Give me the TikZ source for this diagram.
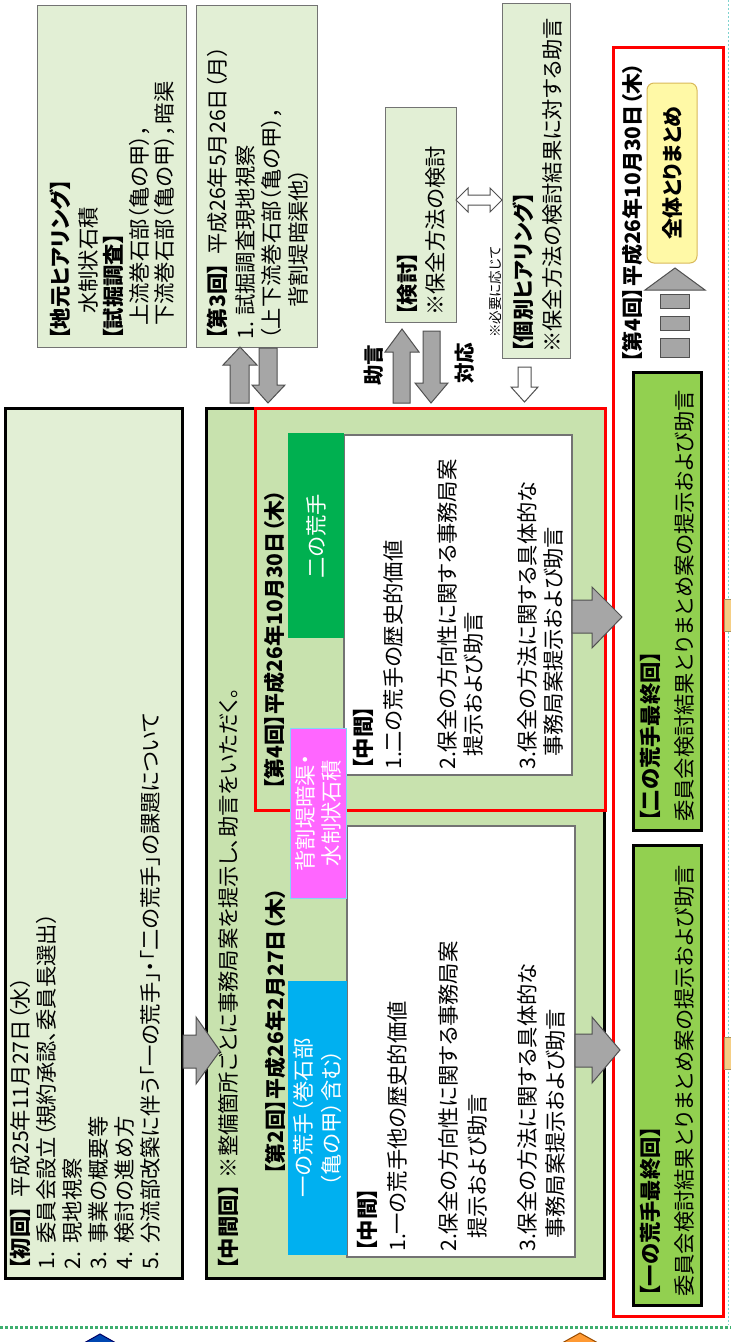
\documentclass[tikz,border=0pt]{standalone}
\usepackage{fontspec}
\setmainfont{Noto Sans CJK JP}[RawFeature={+palt}]
\definecolor{lg}{HTML}{E2EFD5}
\definecolor{mg}{HTML}{C8E2AE}
\definecolor{dkgreen}{HTML}{00B050}
\definecolor{cyanb}{HTML}{00B0F0}
\definecolor{magb}{HTML}{FF66FF}
\definecolor{fg}{HTML}{92D050}
\definecolor{yel}{HTML}{FFF9A6}
\definecolor{yelb}{HTML}{D9B95A}
\definecolor{arrgray}{HTML}{A6A6A6}
\definecolor{arrdark}{HTML}{505050}
\definecolor{dotg}{HTML}{3DAE6E}
\definecolor{dotc}{HTML}{7FD3CF}
\definecolor{orb}{HTML}{F5CF85}
\begin{document}
\begin{tikzpicture}[x=1pt,y=-1pt,
  t/.style={rotate=90,anchor=west,inner sep=0pt,font=\fontsize{21.3}{24}\selectfont},
  tc/.style={rotate=90,anchor=center,inner sep=0pt,font=\fontsize{21.3}{24}\selectfont},
  small/.style={rotate=90,anchor=west,inner sep=0pt,font=\fontsize{13.5}{15}\selectfont},
  lbox/.style={fill=lg,draw=black!55,line width=0.9pt},
  wbox/.style={fill=white,draw=black!55,line width=1.2pt},
  arr/.style={fill=arrgray,draw=arrdark,line width=1pt,line join=miter},
  harr/.style={fill=white,draw=arrdark,line width=1pt,line join=miter},
]
\useasboundingbox (0,0) rectangle (731,1342);
\fill[white] (0,0) rectangle (731,1342);

% ---------- top boxes ----------
\draw[lbox] (37,5) rectangle (186,347);
\node[t] (jm1) at (60,340) {\textbf{【地元ヒアリング】}};
\node[t] (jm2) at (88,314) {水制状石積};
\node[t] (jm3) at (113,340) {\textbf{【試掘調査】}};
\node[t] (jm4) at (140,326) {上流巻石部（亀の甲），};
\node[t] (jm5) at (165,326) {下流巻石部（亀の甲），暗渠};

\draw[lbox] (196,5) rectangle (317,347);
\node[t] (d3a) at (217,340) {\textbf{【第3回】}\hspace{0.4em}平成26年5月26日（月）};
\node[t] (d3b) at (245,340) {1.\hspace{0.3em}試掘調査現地視察};
\node[t] (d3c) at (272,340) {（上下流巻石部（亀の甲），};
\node[t] (d3d) at (298,308) {背割堤暗渠他）};

\draw[lbox] (385,107) rectangle (456,322);
\node[t] (k1) at (407,316) {\textbf{【検討】}};
\node[t] (k2) at (435,316) {※保全方法の検討};

\draw[lbox] (502,3) rectangle (570,358);
\node[t] (h1) at (523,353) {\textbf{【個別ヒアリング】}};
\node[t] (h2) at (552,353) {※保全方法の検討結果に対する助言};
\node[small] (nec) at (495,338) {※必要に応じて};

% double hollow arrow
\draw[harr] (456,200) -- (468,188) -- (468,195) -- (490,195) -- (490,188) -- (502,200)
  -- (490,212) -- (490,205) -- (468,205) -- (468,212) -- cycle;

% ---------- arrows between top and middle ----------
\draw[arr] (230,403) -- (230,365) -- (223,365) -- (240,347) -- (257,365) -- (249,365) -- (249,403) -- cycle;
\draw[arr] (259,348) -- (277,348) -- (277,385) -- (285,385) -- (268,403) -- (252,385) -- (259,385) -- cycle;
\draw[arr] (393,403) -- (393,352) -- (385,352) -- (402,329) -- (419,352) -- (410,352) -- (410,403) -- cycle;
\draw[arr] (423,331) -- (440,331) -- (440,383) -- (448,383) -- (431,403) -- (415,383) -- (423,383) -- cycle;
\draw[harr] (518,367) -- (531,367) -- (531,387) -- (538,387) -- (524.5,402) -- (511,387) -- (518,387) -- cycle;
\node[tc,font=\fontsize{20.5}{22}\selectfont\bfseries] (jogen) at (374,365) {助言};
\node[tc,font=\fontsize{20.5}{22}\selectfont\bfseries] (taio) at (465,363) {対応};

% ---------- first meeting box ----------
\draw[fill=lg,draw=black,line width=3pt] (5,408) rectangle (182,1278);
\node[t] (s0) at (20,1270) {\textbf{【初回】}\hspace{0.4em}平成25年11月27日（水）};
\node[t] (s1) at (46,1270) {1.\hspace{0.4em}委員会設立（規約承認、委員長選出）};
\node[t] (s2) at (72,1270) {2.\hspace{0.4em}現地視察};
\node[t] (s3) at (98,1270) {3.\hspace{0.4em}事業の概要等};
\node[t] (s4) at (124,1270) {4.\hspace{0.4em}検討の進め方};
\node[t] (s5) at (150,1270) {5.\hspace{0.4em}分流部改築に伴う「一の荒手」・「二の荒手」の課題について};

% ---------- middle meeting box ----------
\draw[fill=mg,draw=black,line width=3pt] (206,408) rectangle (604,1278);
\node[t] (m0) at (228,1270) {\textbf{【中間回】}\hspace{0.3em}※整備箇所ごとに事務局案を提示し、助言をいただく。};

% red box (second arate)
\draw[fill=mg,draw=red,line width=3pt] (255,408) rectangle (605,810);
\node[t,font=\fontsize{21}{24}\selectfont\bfseries] (d4) at (274,790) {【第4回】平成26年10月30日（木）};
\draw[wbox] (344,435) rectangle (572,775);
\fill[dkgreen] (288,433) rectangle (344,638);
\node[tc,text=white] (ni) at (316,536) {二の荒手};
\node[t] (n0) at (363,770) {\textbf{【中間】}};
\node[t] (n1) at (393,770) {1.二の荒手の歴史的価値};
\node[t] (n2) at (447,770) {2.保全の方向性に関する事務局案};
\node[t] (n3) at (473,757) {提示および助言};
\node[t] (n4) at (527,770) {3.保全の方法に関する具体的な};
\node[t] (n5) at (553,757) {事務局案提示および助言};

% first arate
\node[t,font=\fontsize{21}{24}\selectfont\bfseries] (d2) at (275,1175) {【第2回】平成26年2月27日（木）};
\draw[wbox] (347,826) rectangle (575,1257);
\fill[cyanb] (288,981) rectangle (347,1255);
\node[tc,text=white] (ic1) at (303,1118) {一の荒手（巻石部};
\node[tc,text=white] (ic2) at (331,1118) {（亀の甲）含む）};
\node[t] (i0) at (367,1252) {\textbf{【中間】}};
\node[t] (i1) at (397,1252) {1.一の荒手他の歴史的価値};
\node[t] (i2) at (448,1252) {2.保全の方向性に関する事務局案};
\node[t] (i3) at (477,1239) {提示および助言};
\node[t] (i4) at (527,1252) {3.保全の方法に関する具体的な};
\node[t] (i5) at (555,1239) {事務局案提示および助言};

% magenta label
\draw[fill=magb,draw=cyan!50,line width=1pt] (290,728) rectangle (346,898);
\node[tc,text=white] (mg1) at (305,813) {背割堤暗渠・};
\node[tc,text=white] (mg2) at (331,813) {水制状石積};

% arrow from first box
\draw[arr] (183,1035) -- (196,1035) -- (196,1017) -- (220,1051) -- (196,1084) -- (196,1068) -- (183,1068) -- cycle;

% ---------- right column ----------
\draw[red,line width=3pt] (613,47) rectangle (723,1316);
\node[t,font=\fontsize{21}{24}\selectfont\bfseries] (d4r) at (632,363) {【第4回】平成26年10月30日（木）};
\draw[fill=yel,draw=yelb,line width=1pt,rounded corners=7pt] (647,83) rectangle (697,263);
\node[tc,font=\fontsize{21}{24}\selectfont\bfseries] (zen) at (672,173) {全体とりまとめ};
\draw[arr] (645,290) -- (675,268) -- (705,290) -- cycle;
\draw[arr] (660,294) rectangle (689,308);
\draw[arr] (660,316) rectangle (689,330);
\draw[arr] (660,338) rectangle (689,357);

\draw[fill=fg,draw=black,line width=3pt] (633,372) rectangle (701,830);
\node[t] (f1) at (650,822) {\textbf{【二の荒手最終回】}};
\node[t] (f2) at (684,822) {委員会検討結果とりまとめ案の提示および助言};
\draw[fill=fg,draw=black,line width=3pt] (633,845) rectangle (701,1305);
\node[t] (g1) at (650,1297) {\textbf{【一の荒手最終回】}};
\node[t] (g2) at (684,1297) {委員会検討結果とりまとめ案の提示および助言};

% arrows to final boxes
\draw[arr] (572,600) -- (592,600) -- (592,587) -- (622,617) -- (592,648) -- (592,633) -- (572,633) -- cycle;
\draw[arr] (575,1034) -- (592,1034) -- (592,1017) -- (620,1050) -- (592,1083) -- (592,1067) -- (575,1067) -- cycle;

% edge decorations
\draw[dotc,line width=1pt,dash pattern=on 2pt off 2pt] (728,0) -- (728,1325);
\draw[fill=orb,draw=orb!70!black,line width=0.8pt] (724,599) rectangle (733,631);
\draw[fill=orb,draw=orb!70!black,line width=0.8pt] (724,1037) rectangle (733,1069);
\draw[dotg,line width=3pt,dash pattern=on 3pt off 2pt] (0,1327) -- (731,1327);
\draw[fill=blue!60!cyan!70!black,draw=blue!40!black,line width=1pt] (84,1343) -- (100,1334) -- (116,1343) -- cycle;
\draw[fill=orange!80,draw=orange!60!black,line width=1pt] (562,1343) -- (580,1333) -- (598,1343) -- cycle;
\end{tikzpicture}
\end{document}
